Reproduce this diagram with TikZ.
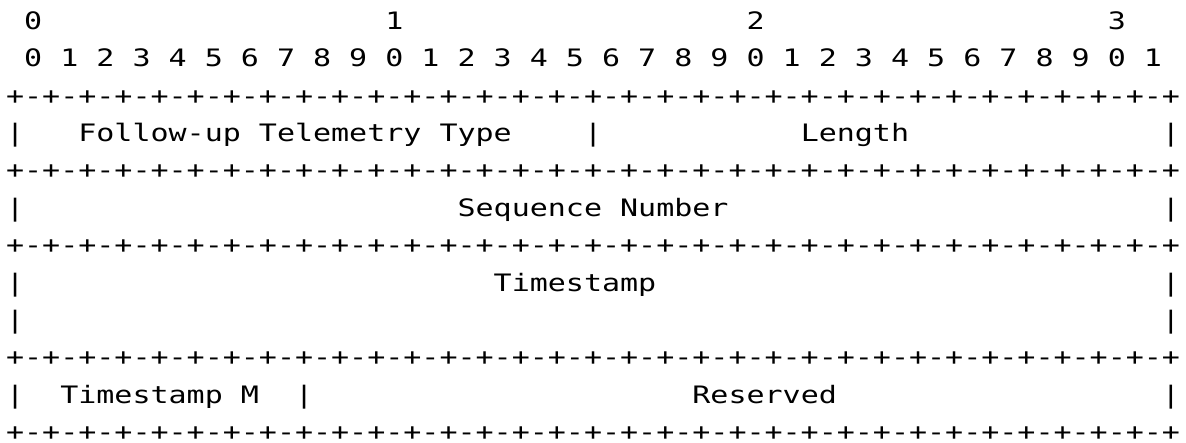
\documentclass[tikz,border=0pt]{standalone}
\usepackage{fontspec}
\newfontfamily\pktfont[FakeStretch=1.25]{DejaVu Sans Mono}
\newcommand{\sepline}{+-+-+-+-+-+-+-+-+-+-+-+-+-+-+-+-+-+-+-+-+-+-+-+-+-+-+-+-+-+-+-+-+}

\begin{document}
\begin{tikzpicture}[x=9.03pt, y=-18.68pt,
    font=\pktfont\fontsize{12}{14}\selectfont,
    every node/.style={anchor=base west, inner sep=0pt}]
            \useasboundingbox (-2.85pt, 14.75pt) rectangle (590.15pt, -206.75pt);

            % Bit numbers
            \node (t0) at (1, 0) {0};
            \node (t1) at (21, 0) {1};
            \node (t2) at (41, 0) {2};
            \node (t3) at (61, 0) {3};
            \foreach \k [evaluate=\k as \d using {int(mod(\k,10))}] in {0,...,31}
                \node (b\k) at (2*\k+1, 1) {\d};

            % Separators
            \foreach \r in {2,4,6,9,11}
                \node (sep\r) at (0, \r) {\sepline};

            % Side bars
            \foreach \r in {3,5,7,8,10} {
                \node (pl\r) at (0, \r) {|};
                \node (pr\r) at (64, \r) {|};
            }
            \node (pm3) at (32, 3) {|};
            \node (pm10) at (16, 10) {|};

            % Fields
            \node (type) at (4, 3) {Follow-up Telemetry Type};
            \node (len) at (44, 3) {Length};
            \node (seq) at (25, 5) {Sequence Number};
            \node (ts) at (27, 7) {Timestamp};
            \node (tsm) at (3, 10) {Timestamp M};
            \node (rsv) at (38, 10) {Reserved};

        \end{tikzpicture}
\end{document}
